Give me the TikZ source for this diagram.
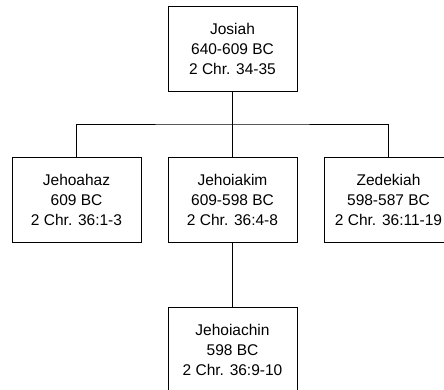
\documentclass[tikz,border=0pt]{standalone}
\usepackage{fontspec}
\setmainfont{Liberation Sans}
\usetikzlibrary{positioning}

\begin{document}
\begin{tikzpicture}[auto, x=1pt, y=1pt, node distance=26pt, line width=1pt]
    \useasboundingbox (0,0) rectangle (444,-389);
    % Father
    \node [draw,
        minimum width=129pt,
        minimum height=85pt,
        align=center,
        font=\fontsize{15.5}{20}\selectfont
    ]  (Josiah) at (232.5,-48.5) {Josiah\\640-609 BC\\2 Chr. 34-35};
    % Sons
    \node [draw,
        minimum width=129pt,
        minimum height=85pt,
        align=center,
        font=\fontsize{15.5}{20}\selectfont,
        below=65pt of Josiah
    ]  (Jehoiakim) {Jehoiakim\\609-598 BC\\2 Chr. 36:4-8};
    \node [draw,
        minimum width=129pt,
        minimum height=85pt,
        align=center,
        font=\fontsize{15.5}{20}\selectfont,
        left=of Jehoiakim
    ]  (Jehoahaz) {Jehoahaz\\609 BC\\2 Chr. 36:1-3};
    \node [draw,
        minimum width=129pt,
        minimum height=85pt,
        align=center,
        font=\fontsize{15.5}{20}\selectfont,
        right=of Jehoiakim
    ]  (Zedekiah) {Zedekiah\\598-587 BC\\2 Chr. 36:11-19};
    % Grandson
    \node [draw,
        minimum width=129pt,
        minimum height=85pt,
        align=center,
        font=\fontsize{15.5}{20}\selectfont,
        below=64pt of Jehoiakim
    ]  (Jehoiachin) {Jehoiachin\\598 BC\\2 Chr. 36:9-10};

    \coordinate (Split) at (232.5,-124);
    \draw (Josiah) -- (Split);
    \draw (Jehoahaz.north) |- (Split) -| (Zedekiah.north);
    \draw (Split) -- (Jehoiakim);
    \draw (Jehoiakim) -- (Jehoiachin);

\end{tikzpicture}
\end{document}
